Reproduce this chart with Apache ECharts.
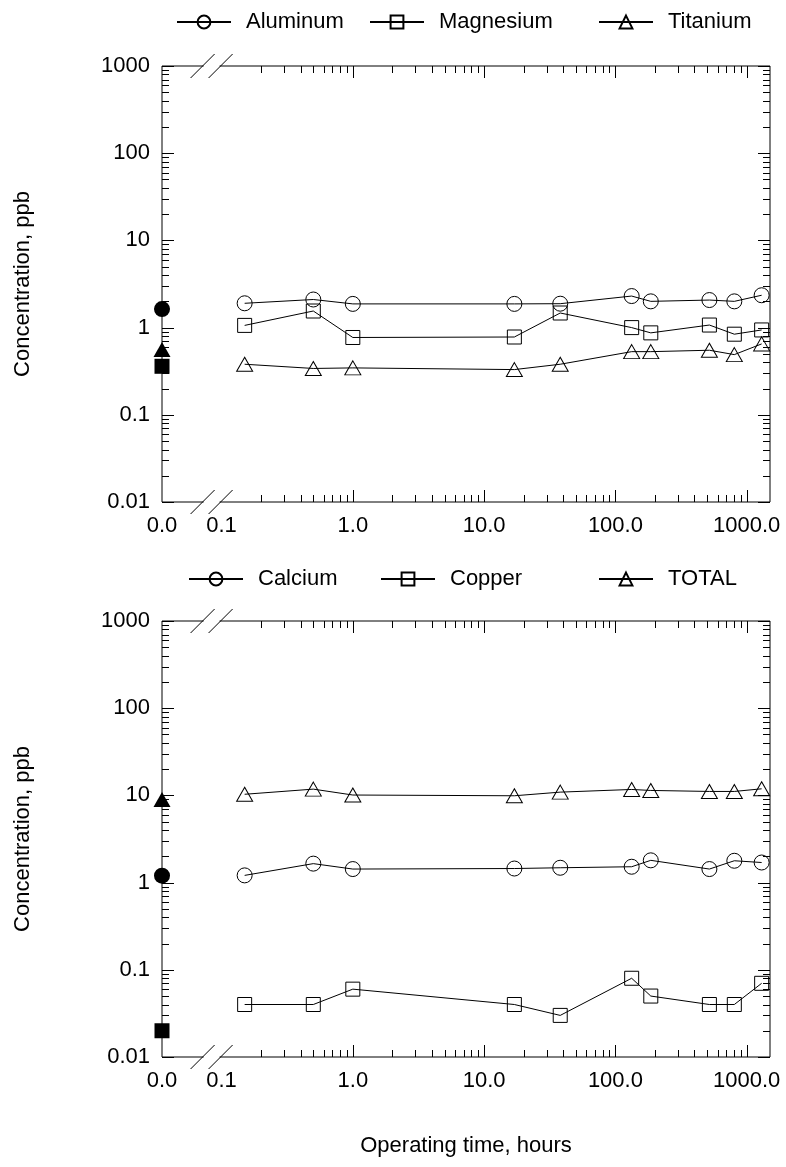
<!DOCTYPE html>
<html>
<head>
<meta charset="utf-8">
<script src="https://cdn.jsdelivr.net/npm/echarts@6/dist/echarts.min.js"></script>
<style>
html, body { margin: 0; padding: 0; background: #fff; }
#chart { width: 786px; height: 1167px; }
</style>
</head>
<body>
<div id="chart"></div>
<script>
// Sampling times, hours
const hours = [0.15, 0.5, 1.0, 17, 38, 133, 186, 520, 805, 1300];

// Upper panel, ppb
const aluminum  = [1.90, 2.10, 1.87, 1.87, 1.88, 2.30, 2.00, 2.07, 2.00, 2.35];
const magnesium = [1.06, 1.55, 0.77, 0.78, 1.47, 1.00, 0.87, 1.07, 0.84, 0.94];
const titanium  = [0.38, 0.34, 0.345, 0.33, 0.38, 0.53, 0.53, 0.55, 0.49, 0.65];
// Upper panel, time zero (filled markers)
const aluminumStart = 1.63;
const magnesiumStart = 0.36;
const titaniumStart = 0.56;

// Lower panel, ppb
const calcium = [1.21, 1.65, 1.43, 1.45, 1.48, 1.52, 1.80, 1.43, 1.78, 1.70];
const copper  = [0.04, 0.04, 0.06, 0.04, 0.03, 0.08, 0.05, 0.04, 0.04, 0.07];
const total   = [10.3, 11.8, 10.1, 9.9, 10.9, 11.7, 11.4, 11.1, 11.1, 11.9];
// Lower panel, time zero (filled markers)
const calciumStart = 1.2;
const copperStart = 0.02;
const totalStart = 9.0;

// Axis ranges; the left end of the time axis stands for time zero ("0.0")
const X_MIN = 0.0352, X_MAX = 1505;
const Y_MIN = 0.01, Y_MAX = 1000;
const AXIS_BREAK = 0.084;   // where the time axis is broken

// Tick values
const xMajorTicks = [1, 10, 100, 1000];
const xMinorDecades = [0.1, 1, 10, 100];
const yMajorTicks = [0.01, 0.1, 1, 10, 100, 1000];
const yMinorDecades = [0.01, 0.1, 1, 10, 100];
const minorSteps = [2, 3, 4, 5, 6, 7, 8, 9];

const FONT = '"Liberation Sans", Arial, Helvetica, sans-serif';
const FS = 22;

function minorTicks(decades) {
  const out = [];
  decades.forEach(d => minorSteps.forEach(s => out.push(+(d * s).toPrecision(6))));
  return out;
}

function pairs(values) {
  return hours.map((h, i) => [h, values[i]]);
}

// Tick marks on all four sides plus the axis break, placed through the axis scales
function frameSeries(gi) {
  const data = [];
  xMajorTicks.forEach(v => data.push([v, 1, 1]));
  minorTicks(xMinorDecades).forEach(v => data.push([v, 1, 0]));
  yMajorTicks.forEach(v => data.push([1, v, 3]));
  minorTicks(yMinorDecades).forEach(v => data.push([1, v, 2]));
  data.push([AXIS_BREAK, 1, 4]);
  return {
    type: 'custom',
    xAxisIndex: gi, yAxisIndex: gi,
    silent: true, clip: false, z: 10,
    data: data,
    renderItem: function (params, api) {
      const cs = params.coordSys;
      const left = cs.x, right = cs.x + cs.width, top = cs.y, bottom = cs.y + cs.height;
      const kind = api.value(2);
      const p = api.coord([api.value(0), api.value(1)]);
      const st = { stroke: '#000', lineWidth: 1 };
      const line = (x1, y1, x2, y2) => ({ type: 'line', shape: { x1, y1, x2, y2 }, style: st });
      if (kind === 0 || kind === 1) {
        const L = kind === 1 ? 12 : 7;
        const x = Math.round(p[0]) + 0.5;
        return { type: 'group', children: [line(x, bottom, x, bottom - L), line(x, top, x, top + L)] };
      }
      if (kind === 2 || kind === 3) {
        const L = kind === 3 ? 12 : 7;
        const y = Math.round(p[1]) + 0.5;
        return { type: 'group', children: [line(left, y, left + L, y), line(right, y, right - L, y)] };
      }
      // axis break: gap in the top and bottom edges, two slashes on each
      const cx = p[0], h = 9, s = 12;
      const kids = [];
      [top, bottom].forEach(yy => {
        kids.push({ type: 'rect', shape: { x: cx - h + 1, y: yy - 2, width: 2 * h - 2, height: 4 }, style: { fill: '#fff' } });
        kids.push(line(cx - h - s, yy + s, cx - h + s, yy - s));
        kids.push(line(cx + h - s, yy + s, cx + h + s, yy - s));
      });
      return { type: 'group', children: kids };
    }
  };
}

function lineSeries(name, gi, values, symbol, size) {
  return {
    name: name, type: 'line', xAxisIndex: gi, yAxisIndex: gi,
    data: pairs(values),
    symbol: symbol, symbolSize: size, showSymbol: true,
    lineStyle: { color: '#000', width: 1 },
    itemStyle: { color: 'rgba(0,0,0,0)', borderColor: '#000', borderWidth: 1 },
    emphasis: { disabled: true },
    clip: false, z: 3
  };
}

function startSeries(gi, value, symbol, size) {
  return {
    type: 'scatter', xAxisIndex: gi, yAxisIndex: gi,
    data: [[X_MIN, value]],
    symbol: symbol, symbolSize: size,
    itemStyle: { color: '#000', opacity: 1 },
    emphasis: { disabled: true },
    clip: false, z: 4
  };
}

function xAxisDef(gi, withName) {
  const ax = {
    type: 'log', logBase: 10, gridIndex: gi, min: X_MIN, max: X_MAX,
    axisLine: { show: false }, axisTick: { show: false }, splitLine: { show: false },
    axisLabel: {
      color: '#000', fontFamily: FONT, fontSize: FS, margin: 13,
      showMaxLabel: false,
      formatter: function (v) {
        if (v <= X_MIN * 1.01) return '0.0';
        if (v >= X_MAX * 0.99) return '';
        return (+v.toPrecision(6)).toFixed(1);
      }
    }
  };
  if (withName) {
    ax.name = 'Operating time, hours';
    ax.nameLocation = 'middle';
    ax.nameGap = 78;
    ax.nameTextStyle = { color: '#000', fontFamily: FONT, fontSize: FS };
  }
  return ax;
}

function yAxisDef(gi) {
  return {
    type: 'log', logBase: 10, gridIndex: gi, min: Y_MIN, max: Y_MAX,
    axisLine: { show: false }, axisTick: { show: false }, splitLine: { show: false },
    axisLabel: {
      color: '#000', fontFamily: FONT, fontSize: FS, margin: 12,
      formatter: v => String(+v.toPrecision(6))
    },
    name: 'Concentration, ppb', nameLocation: 'middle', nameGap: 128,
    nameTextStyle: { color: '#000', fontFamily: FONT, fontSize: FS }
  };
}

function legendDef(name, left, top) {
  return {
    data: [name], left: left, top: top, padding: 0,
    itemWidth: 54, itemHeight: 16, selectedMode: false,
    textStyle: { color: '#000', fontFamily: FONT, fontSize: FS, padding: [0, 0, 0, 10] }
  };
}

const option = {
  backgroundColor: '#fff',
  animation: false,
  textStyle: { fontFamily: FONT },
  grid: [
    { left: 162, top: 66, width: 608, height: 436, show: true, borderColor: '#000', borderWidth: 1, backgroundColor: 'transparent' },
    { left: 162, top: 621, width: 608, height: 436, show: true, borderColor: '#000', borderWidth: 1, backgroundColor: 'transparent' }
  ],
  legend: [
    legendDef('Aluminum', 176, 11),
    legendDef('Magnesium', 369, 11),
    legendDef('Titanium', 598, 11),
    legendDef('Calcium', 188, 568),
    legendDef('Copper', 380, 568),
    legendDef('TOTAL', 598, 568)
  ],
  xAxis: [xAxisDef(0, false), xAxisDef(1, true)],
  yAxis: [yAxisDef(0), yAxisDef(1)],
  series: [
    frameSeries(0),
    frameSeries(1),
    lineSeries('Aluminum', 0, aluminum, 'circle', 15),
    lineSeries('Magnesium', 0, magnesium, 'rect', 14),
    lineSeries('Titanium', 0, titanium, 'triangle', [16, 14]),
    startSeries(0, aluminumStart, 'circle', 16),
    startSeries(0, magnesiumStart, 'rect', 15),
    startSeries(0, titaniumStart, 'triangle', [17, 15]),
    lineSeries('Calcium', 1, calcium, 'circle', 15),
    lineSeries('Copper', 1, copper, 'rect', 14),
    lineSeries('TOTAL', 1, total, 'triangle', [16, 14]),
    startSeries(1, calciumStart, 'circle', 16),
    startSeries(1, copperStart, 'rect', 15),
    startSeries(1, totalStart, 'triangle', [17, 15])
  ]
};

const chart = echarts.init(document.getElementById('chart'), null, { renderer: 'canvas' });
chart.setOption(option);
</script>
</body>
</html>
